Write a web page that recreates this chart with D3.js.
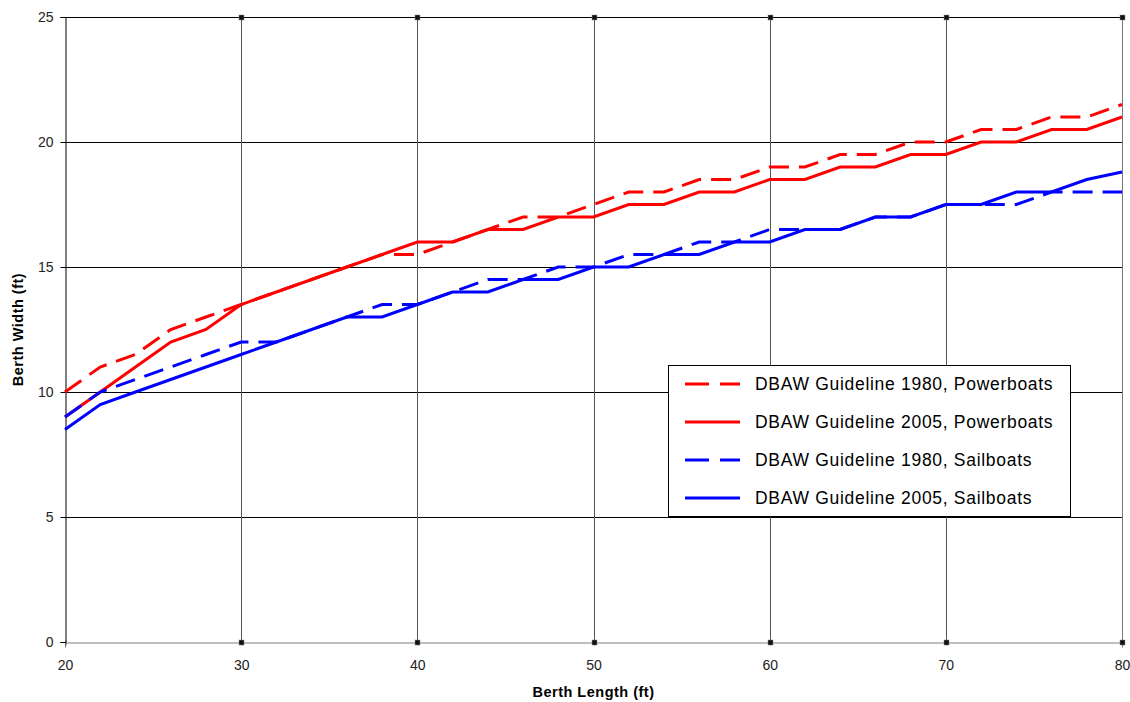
<!DOCTYPE html>
<html>
<head>
<meta charset="utf-8">
<script src="https://cdn.jsdelivr.net/npm/d3@7"></script>
<style>
  body { margin: 0; background: #fff; }
  svg { display: block; font-family: "Liberation Sans", Arial, sans-serif; }
</style>
</head>
<body>
<svg id="chart" width="1130" height="702"></svg>
<script>
const lengths = [20,22,24,26,28,30,32,34,36,38,40,42,44,46,48,50,52,54,56,58,60,62,64,66,68,70,72,74,76,78,80];
const power1980 = [10,11,11.5,12.5,13,13.5,14,14.5,15,15.5,15.5,16,16.5,17,17,17.5,18,18,18.5,18.5,19,19,19.5,19.5,20,20,20.5,20.5,21,21,21.5];
const power2005 = [9,10,11,12,12.5,13.5,14,14.5,15,15.5,16,16,16.5,16.5,17,17,17.5,17.5,18,18,18.5,18.5,19,19,19.5,19.5,20,20,20.5,20.5,21];
const sail1980  = [9,10,10.5,11,11.5,12,12,12.5,13,13.5,13.5,14,14.5,14.5,15,15,15.5,15.5,16,16,16.5,16.5,16.5,17,17,17.5,17.5,17.5,18,18,18];
const sail2005  = [8.5,9.5,10,10.5,11,11.5,12,12.5,13,13,13.5,14,14,14.5,14.5,15,15,15.5,15.5,16,16,16.5,16.5,17,17,17.5,17.5,18,18,18.5,18.8];
const seriesNames = ["DBAW Guideline 1980, Powerboats","DBAW Guideline 2005, Powerboats","DBAW Guideline 1980, Sailboats","DBAW Guideline 2005, Sailboats"];
const xTicks = [20,30,40,50,60,70,80];
const yTicks = [0,5,10,15,20,25];
const xTitle = "Berth Length (ft)";
const yTitle = "Berth Width (ft)";

const series = [
  {name: seriesNames[0], values: power1980, color: "#ff0000", dash: "20,10"},
  {name: seriesNames[1], values: power2005, color: "#ff0000", dash: null},
  {name: seriesNames[2], values: sail1980,  color: "#0000ff", dash: "20,10"},
  {name: seriesNames[3], values: sail2005,  color: "#0000ff", dash: null}
];

const L = 65, R = 1122, T = 17, B = 642;
const svg = d3.select("#chart");
const x = d3.scaleLinear().domain([20,80]).range([L,R]);
const y = d3.scaleLinear().domain([0,25]).range([B,T]);

// horizontal gridlines
svg.append("g").selectAll("line").data(yTicks.filter(d => d > 0)).join("line")
  .attr("x1", L).attr("x2", R)
  .attr("y1", d => Math.round(y(d)) + 0.5).attr("y2", d => Math.round(y(d)) + 0.5)
  .attr("stroke", "#000").attr("stroke-width", 1);

// vertical gridlines
svg.append("g").selectAll("line").data(xTicks.filter(d => d > 20)).join("line")
  .attr("x1", d => Math.round(x(d)) + 0.5).attr("x2", d => Math.round(x(d)) + 0.5)
  .attr("y1", T).attr("y2", B)
  .attr("stroke", "#555").attr("stroke-width", 1);

// right border
svg.append("line").attr("x1", R + 0.5).attr("x2", R + 0.5).attr("y1", T).attr("y2", B)
  .attr("stroke", "#777");

// axes
const xAxis = d3.axisBottom(x).tickValues(xTicks).tickSize(5).tickPadding(13).tickFormat(d3.format("d"));
const gx = svg.append("g").attr("transform", `translate(0,${B + 0.5})`).call(xAxis);
gx.select(".domain").attr("stroke", "#808080");
gx.selectAll(".tick line").attr("stroke", "#555").attr("transform", "translate(0.5,-2)");
gx.selectAll("text").attr("font-size", 14).attr("fill", "#222")
  .attr("font-family", "Liberation Sans, Arial, sans-serif");

const yAxis = d3.axisLeft(y).tickValues(yTicks).tickSize(5).tickPadding(7).tickFormat(d3.format("d"));
const gy = svg.append("g").attr("transform", `translate(${L + 0.5},0)`).call(yAxis);
gy.select(".domain").attr("stroke", "#000");
gy.selectAll(".tick line").attr("stroke", "#000");
gy.selectAll("text").attr("font-size", 14).attr("fill", "#222")
  .attr("font-family", "Liberation Sans, Arial, sans-serif");

// top border
svg.append("line").attr("x1", L).attr("x2", R + 1).attr("y1", T + 0.5).attr("y2", T + 0.5)
  .attr("stroke", "#000");

// little square markers at gridline ends (top and bottom)
const markerData = [];
xTicks.filter(d => d > 20).forEach(d => { markerData.push({v: d, yy: T}); markerData.push({v: d, yy: B}); });
svg.append("g").selectAll("rect").data(markerData).join("rect")
  .attr("x", d => Math.round(x(d.v)) - 2).attr("y", d => d.yy - 2)
  .attr("width", 5).attr("height", 5)
  .attr("fill", "#111").attr("stroke", "#888").attr("stroke-width", 0.5);

// series
const line = d3.line().x((d, i) => x(lengths[i])).y(d => y(d));
const plot = svg.append("g");
series.forEach(s => {
  plot.append("path").datum(s.values)
    .attr("d", line)
    .attr("fill", "none")
    .attr("stroke", s.color)
    .attr("stroke-width", 3)
    .attr("stroke-dasharray", s.dash)
    .attr("stroke-linejoin", "miter");
});

// axis titles
svg.append("text").attr("x", (L + R) / 2).attr("y", 697)
  .attr("text-anchor", "middle").attr("font-size", 14.5).attr("font-weight", "bold")
  .attr("letter-spacing", 0.5)
  .attr("fill", "#000").text(xTitle);
svg.append("text").attr("transform", `translate(23,${(T + B) / 2}) rotate(-90)`)
  .attr("text-anchor", "middle").attr("font-size", 14.5).attr("font-weight", "bold")
  .attr("letter-spacing", 0.5)
  .attr("fill", "#000").text(yTitle);

// legend
const lg = svg.append("g");
lg.append("rect").attr("x", 668.5).attr("y", 365.5).attr("width", 402).attr("height", 151)
  .attr("fill", "#fff").attr("stroke", "#000").attr("stroke-width", 1);
series.forEach((s, i) => {
  const yy = 384 + i * 38;
  lg.append("line").attr("x1", 685).attr("x2", 740).attr("y1", yy).attr("y2", yy)
    .attr("stroke", s.color).attr("stroke-width", 3).attr("stroke-dasharray", s.dash ? "24,11" : null);
  lg.append("text").attr("x", 755).attr("y", yy).attr("dy", "0.36em")
    .attr("font-size", 17.5).attr("letter-spacing", 0.7)
    .attr("fill", "#000").text(s.name);
});
</script>
</body>
</html>
